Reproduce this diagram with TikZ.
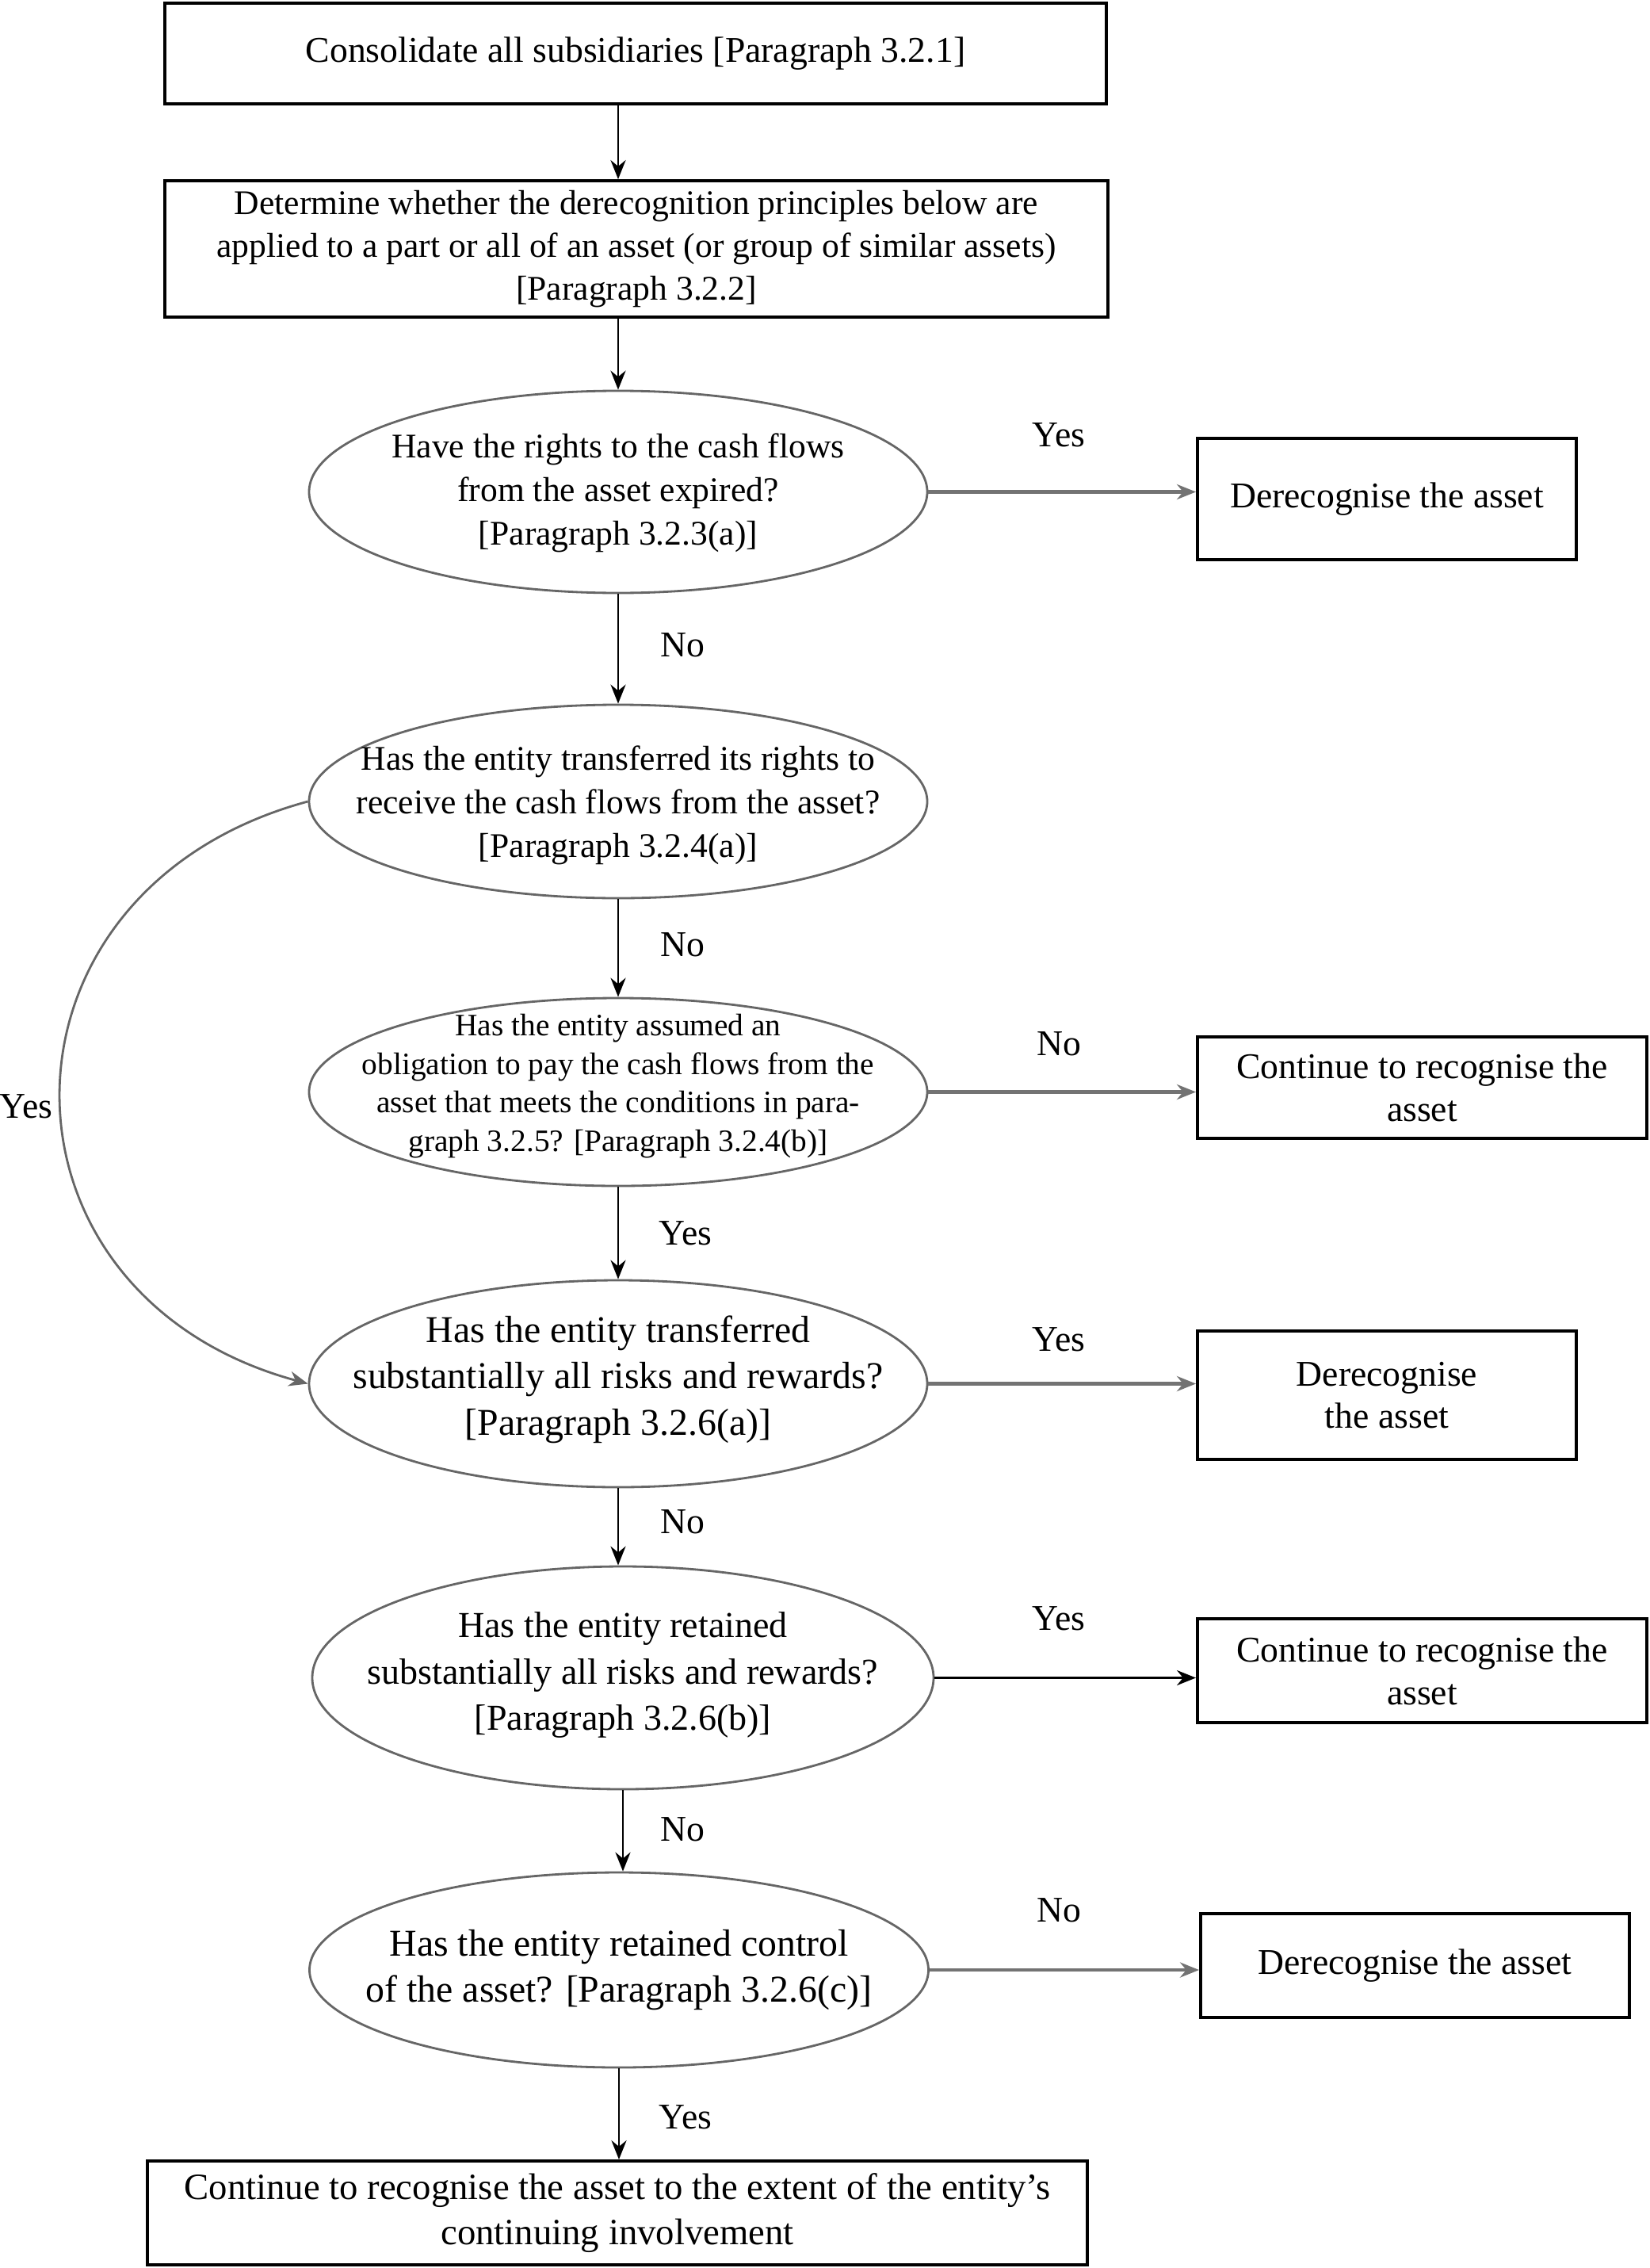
\documentclass[tikz,border=0pt]{standalone}
\usepackage{fontspec}
\setmainfont{Liberation Serif}
\usetikzlibrary{shapes.geometric,arrows.meta}
\begin{document}
\begin{tikzpicture}[x=1cm,y=1cm,
 boxst/.style={draw=black,line width=1.1pt,inner sep=0pt,align=center,font=\fontsize{13}{15.3}\selectfont},
 ellst/.style={draw=black!60,line width=0.8pt,ellipse,inner sep=0pt},
 etext/.style={align=center,inner sep=0pt,font=\fontsize{12.4}{15.6}\selectfont},
 etextb/.style={align=center,inner sep=0pt,font=\fontsize{13.6}{16.6}\selectfont},
 etexts/.style={align=center,inner sep=0pt,font=\fontsize{11.2}{13.8}\selectfont},
 lbl/.style={inner sep=0pt,font=\fontsize{13}{15}\selectfont},
 varr/.style={draw=black,line width=0.8pt,-{Stealth[length=2.4mm,width=1.9mm]}},
 harr/.style={draw=black!55,line width=1.2pt,-{Stealth[length=2.4mm,width=1.9mm]}},
 harrb/.style={draw=black,line width=1.0pt,-{Stealth[length=2.4mm,width=1.9mm]}},
 carr/.style={draw=black!60,line width=0.8pt,-{Stealth[length=2.4mm,width=1.9mm]}},
]
\useasboundingbox (0,0) rectangle (20.82,-28.61);

% boxes
\node[boxst, minimum width=11.88cm, minimum height=1.27cm] (b1) at (8.02,-0.675) {Consolidate all subsidiaries [Paragraph 3.2.1]};
\node[boxst, minimum width=11.90cm, minimum height=1.72cm, font=\fontsize{12.4}{15.3}\selectfont] (b2) at (8.03,-3.14) {Determine whether the derecognition principles below are\\applied to a part or all of an asset (or group of similar assets)\\{}[Paragraph 3.2.2]};
\node[boxst, minimum width=4.78cm, minimum height=1.53cm] (b3) at (17.50,-6.295) {Derecognise the asset};
\node[boxst, minimum width=5.67cm, minimum height=1.28cm] (b4) at (17.945,-13.72) {Continue to recognise the\\asset};
\node[boxst, minimum width=4.78cm, minimum height=1.62cm] (b5) at (17.50,-17.60) {Derecognise\\the asset};
\node[boxst, minimum width=5.67cm, minimum height=1.31cm] (b6) at (17.945,-21.075) {Continue to recognise the\\asset};
\node[boxst, minimum width=5.41cm, minimum height=1.31cm] (b7) at (17.855,-24.795) {Derecognise the asset};
\node[boxst, minimum width=11.86cm, minimum height=1.31cm, font=\fontsize{13.3}{16.2}\selectfont] (b8) at (7.79,-27.915) {Continue to recognise the asset to the extent of the entity’s\\continuing involvement};

% ellipses
\node[ellst, minimum width=7.80cm, minimum height=2.55cm] (e1) at (7.80,-6.205) {};
\node[etext] (e1t) at (7.80,-6.22) {Have the rights to the cash flows\\from the asset expired?\\{}[Paragraph 3.2.3(a)]};
\node[ellst, minimum width=7.80cm, minimum height=2.44cm] (e2) at (7.80,-10.11) {};
\node[etext] (e2t) at (7.80,-10.16) {Has the entity transferred its rights to\\receive the cash flows from the asset?\\{}[Paragraph 3.2.4(a)]};
\node[ellst, minimum width=7.80cm, minimum height=2.37cm] (e3) at (7.80,-13.775) {};
\node[etexts] (e3t) at (7.80,-13.70) {Has the entity assumed an\\obligation to pay the cash flows from the\\asset that meets the conditions in para-\\graph 3.2.5? [Paragraph 3.2.4(b)]};
\node[ellst, minimum width=7.80cm, minimum height=2.61cm] (e4) at (7.80,-17.455) {};
\node[etextb] (e4t) at (7.80,-17.40) {Has the entity transferred\\substantially all risks and rewards?\\{}[Paragraph 3.2.6(a)]};
\node[ellst, minimum width=7.84cm, minimum height=2.81cm] (e5) at (7.86,-21.165) {};
\node[etextb, font=\fontsize{13.1}{16.6}\selectfont] (e5t) at (7.86,-21.13) {Has the entity retained\\substantially all risks and rewards?\\{}[Paragraph 3.2.6(b)]};
\node[ellst, minimum width=7.81cm, minimum height=2.46cm] (e6) at (7.81,-24.85) {};
\node[etextb] (e6t) at (7.81,-24.85) {Has the entity retained control\\of the asset? [Paragraph 3.2.6(c)]};

% vertical arrows
\draw[varr] (b1.south -| e1.center) -- (b2.north -| e1.center);
\draw[varr] (b2.south -| e1.center) -- (e1.north);
\draw[varr] (e1.south) -- (e2.north);
\draw[varr] (e2.south) -- (e3.north);
\draw[varr] (e3.south) -- (e4.north);
\draw[varr] (e4.south) -- (e4.south |- e5.north);
\draw[varr] (e5.south) -- (e5.south |- e6.north);
\draw[varr] (e6.south) -- (e6.south |- b8.north);

% horizontal arrows
\draw[harr] (e1.east) -- (e1.east -| b3.west);
\draw[harr] (e3.east) -- (e3.east -| b4.west);
\draw[harr] (e4.east) -- (e4.east -| b5.west);
\draw[harrb] (e5.east) -- (e5.east -| b6.west);
\draw[harr] (e6.east) -- (e6.east -| b7.west);

% curved yes
\draw[carr] (e2.west) .. controls (-0.27,-11.23) and (-0.27,-16.33) .. (e4.west);

% labels
\node[lbl] (l1) at (13.36,-5.49) {Yes};
\node[lbl] (l2) at (8.61,-8.14) {No};
\node[lbl] (l3) at (8.61,-11.92) {No};
\node[lbl] (l4) at (13.36,-13.17) {No};
\node[lbl] (l5) at (8.65,-15.56) {Yes};
\node[lbl] (l6) at (13.36,-16.90) {Yes};
\node[lbl] (l7) at (8.61,-19.20) {No};
\node[lbl] (l8) at (13.36,-20.42) {Yes};
\node[lbl] (l9) at (8.61,-23.08) {No};
\node[lbl] (l10) at (13.36,-24.10) {No};
\node[lbl] (l11) at (8.65,-26.71) {Yes};
\node[lbl] (l12) at (0.33,-13.96) {Yes};
\end{tikzpicture}
\end{document}
